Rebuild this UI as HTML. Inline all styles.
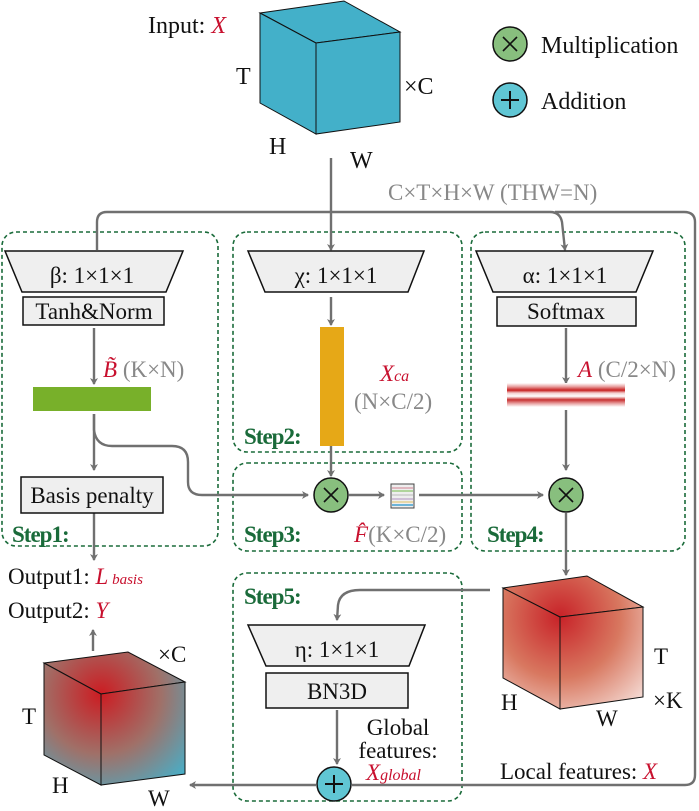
<!DOCTYPE html>
<html><head><meta charset="utf-8"><style>html,body{margin:0;padding:0;background:#fff}svg{display:block}svg text{font-family:"Liberation Serif",serif}</style></head><body>
<svg width="699" height="811" viewBox="0 0 699 811" xmlns="http://www.w3.org/2000/svg">
<defs>
<marker id="ar" markerWidth="8" markerHeight="8" refX="6" refY="4" orient="auto" markerUnits="userSpaceOnUse"><path d="M0,0 L7,4 L0,8 L2,4 Z" fill="#707070"/></marker>
<radialGradient id="gL" gradientUnits="userSpaceOnUse" cx="101" cy="694" r="120"><stop offset="0" stop-color="#cc1c22"/><stop offset="0.5" stop-color="#a07068"/><stop offset="1" stop-color="#40b4d0"/></radialGradient>
<radialGradient id="gR" gradientUnits="userSpaceOnUse" cx="560" cy="617" r="135"><stop offset="0" stop-color="#c82228"/><stop offset="0.45" stop-color="#d87860"/><stop offset="1" stop-color="#ffffff"/></radialGradient>
<linearGradient id="stripe" x1="0" y1="0" x2="0" y2="1">
<stop offset="0" stop-color="#fff"/><stop offset="0.15" stop-color="#e8a0a0"/><stop offset="0.3" stop-color="#c82020"/><stop offset="0.42" stop-color="#f4d0d0"/><stop offset="0.55" stop-color="#fff"/><stop offset="0.7" stop-color="#c83030"/><stop offset="0.85" stop-color="#e8a0a0"/><stop offset="1" stop-color="#fff"/></linearGradient>
</defs>
<g fill="none" stroke="#1a6b3a" stroke-width="1.6" stroke-dasharray="4,3">
<rect x="2" y="232" width="216" height="314" rx="14"/>
<rect x="233" y="232" width="229" height="220" rx="14"/>
<rect x="233" y="463" width="229" height="88" rx="14"/>
<rect x="471" y="232" width="214" height="319" rx="14"/>
<rect x="233" y="573" width="229" height="228" rx="14"/>
</g>
<g stroke="#111" stroke-width="1" fill="#43b0c9">
<polygon points="260,13 344,1 400,32 316,43"/>
<polygon points="260,13 316,43 316,134 260,103"/>
<polygon points="316,43 400,32 400,122 316,134"/>
</g>
<g font-size="24" fill="#111">
<text x="148" y="33">Input: <tspan fill="#c8102e" font-style="italic">X</tspan></text>
<text x="236" y="84">T</text>
<text x="404" y="94">×C</text>
<text x="269" y="154">H</text>
<text x="350" y="168">W</text>
<text x="541" y="53">Multiplication</text>
<text x="541" y="109">Addition</text>
</g>
<circle cx="510" cy="44" r="17" fill="#88bf7e" stroke="#111" stroke-width="1.5"/>
<path d="M503,37 L517,51 M517,37 L503,51" stroke="#111" stroke-width="1.6"/>
<circle cx="510" cy="100" r="17" fill="#60c6d4" stroke="#111" stroke-width="1.5"/>
<path d="M501,100 L519,100 M510,91 L510,109" stroke="#111" stroke-width="2"/>
<g fill="none" stroke="#707070" stroke-width="2.4">
<path d="M331,158 L331,250" marker-end="url(#ar)"/>
<path d="M97,250 L97,222 Q97,212 107,212 L550,212 Q560,212 562,222 L565,250" marker-end="url(#ar)"/>
<path d="M555,212 L684,212 Q695,212 695,222 L695,775 Q695,785 685,785 L352,785"/>
<path d="M316,785 L190,785" marker-end="url(#ar)"/>
<path d="M94,328 L94,384" marker-end="url(#ar)"/>
<path d="M94,414 L94,470" marker-end="url(#ar)"/>
<path d="M94,414 L94,430 Q96,446 112,446 L172,446 Q188,446 188,462 L188,482 Q188,495 202,495 L308,495" marker-end="url(#ar)"/>
<path d="M331,297 L331,325" marker-end="url(#ar)"/>
<path d="M331,446 L331,476" marker-end="url(#ar)"/>
<path d="M349,495 L384,495" marker-end="url(#ar)"/>
<path d="M419,495 L543,495" marker-end="url(#ar)"/>
<path d="M566,328 L566,383" marker-end="url(#ar)"/>
<path d="M566,410 L566,470" marker-end="url(#ar)"/>
<path d="M566,513 L566,575" marker-end="url(#ar)"/>
<path d="M94,513 L94,560" marker-end="url(#ar)"/>
<path d="M93,651 L93,630" marker-end="url(#ar)"/>
<path d="M490,590 L360,590 Q340,590 338,605 L337,620" marker-end="url(#ar)"/>
<path d="M337,710 L337,764" marker-end="url(#ar)"/>
</g>
<g stroke="#111" stroke-width="1.5" fill="#efefef">
<polygon points="5,251 183,251 166,292 22,292"/>
<rect x="23" y="297" width="141" height="28"/>
<rect x="21" y="477" width="142" height="36"/>
<polygon points="248,251 424,251 408,292 265,292"/>
<polygon points="476,251 653,251 636,292 493,292"/>
<rect x="497" y="297" width="139" height="29"/>
<polygon points="248,625 425,625 409,666 266,666"/>
<rect x="266" y="673" width="142" height="35"/>
</g>
<rect x="33" y="387" width="118" height="24" fill="#78b02a"/>
<rect x="320" y="327" width="24" height="119" fill="#e6a817"/>
<rect x="507" y="383" width="118" height="24" fill="url(#stripe)"/>
<g>
<rect x="391" y="484" width="23" height="24" fill="#eee" stroke="#444" stroke-width="1"/>
<path d="M392,488 H413" stroke="#d08090" stroke-width="1"/>
<path d="M392,491 H413" stroke="#9ccc80" stroke-width="1.5"/>
<path d="M392,495 H413" stroke="#bbb" stroke-width="1"/>
<path d="M392,499 H413" stroke="#b090c0" stroke-width="1"/>
<path d="M392,502 H413" stroke="#e0c060" stroke-width="1"/>
<path d="M392,505 H413" stroke="#40a0d0" stroke-width="1.5"/>
</g>
<circle cx="331" cy="495" r="17" fill="#88bf7e" stroke="#111" stroke-width="1.5"/>
<path d="M324,488 L338,502 M338,488 L324,502" stroke="#111" stroke-width="1.6"/>
<circle cx="566" cy="495" r="17" fill="#88bf7e" stroke="#111" stroke-width="1.5"/>
<path d="M559,488 L573,502 M573,488 L559,502" stroke="#111" stroke-width="1.6"/>
<circle cx="334" cy="784" r="17" fill="#60c6d4" stroke="#111" stroke-width="1.5"/>
<path d="M325,784 L343,784 M334,775 L334,793" stroke="#111" stroke-width="2"/>
<g font-size="23" fill="#111" text-anchor="middle">
<text x="92" y="283">β: 1×1×1</text>
<text x="94" y="319">Tanh&amp;Norm</text>
<text x="92" y="503">Basis penalty</text>
<text x="336" y="283">χ: 1×1×1</text>
<text x="565" y="283">α: 1×1×1</text>
<text x="566" y="319">Softmax</text>
<text x="337" y="657">η: 1×1×1</text>
<text x="337" y="699">BN3D</text>
</g>
<g font-size="23" fill="#888">
<text x="388" y="200">C×T×H×W (THW=N)</text>
<text x="103" y="377"><tspan fill="#c8102e" font-style="italic">B̃</tspan> (K×N)</text>
<text x="354" y="409">(N×C/2)</text>
<text x="578" y="377"><tspan fill="#c8102e" font-style="italic">A</tspan> (C/2×N)</text>
<text x="354" y="542"><tspan fill="#c8102e" font-style="italic">F̂</tspan>(K×C/2)</text>
</g>
<text x="380" y="381" font-size="23" fill="#c8102e" font-style="italic">X<tspan font-size="16">ca</tspan></text>
<g font-size="23" fill="#1a6b3a" font-weight="bold" letter-spacing="-1">
<text x="244" y="444">Step2:</text>
<text x="12" y="542">Step1:</text>
<text x="244" y="542">Step3:</text>
<text x="487" y="542">Step4:</text>
<text x="244" y="604">Step5:</text>
</g>
<g font-size="23" fill="#111">
<text x="8" y="584">Output1: <tspan fill="#c8102e" font-style="italic">L</tspan><tspan fill="#c8102e" font-style="italic" font-size="15"> basis</tspan></text>
<text x="8" y="618">Output2: <tspan fill="#c8102e" font-style="italic">Y</tspan></text>
<text x="398" y="735" text-anchor="middle">Global</text>
<text x="398" y="758" text-anchor="middle">features:</text>
<text x="366" y="780" fill="#c8102e" font-style="italic">X<tspan font-size="16">global</tspan></text>
<text x="500" y="779">Local features: <tspan fill="#c8102e" font-style="italic">X</tspan></text>
<text x="158" y="662">×C</text>
<text x="22" y="724">T</text>
<text x="52" y="793">H</text>
<text x="148" y="806">W</text>
<text x="654" y="664">T</text>
<text x="653" y="708">×K</text>
<text x="501" y="710">H</text>
<text x="596" y="726">W</text>
</g>
<g stroke="#111" stroke-width="1" fill="url(#gL)">
<polygon points="44,663 128,652 185,682 101,694"/>
<polygon points="44,663 101,694 101,785 44,755"/>
<polygon points="101,694 185,682 185,774 101,785"/>
</g>
<g stroke="#111" stroke-width="1" fill="url(#gR)">
<polygon points="503,588 587,576 643,607 560,617"/>
<polygon points="503,588 560,617 560,709 503,678"/>
<polygon points="560,617 643,607 643,697 560,709"/>
</g>
</svg>
</body></html>
